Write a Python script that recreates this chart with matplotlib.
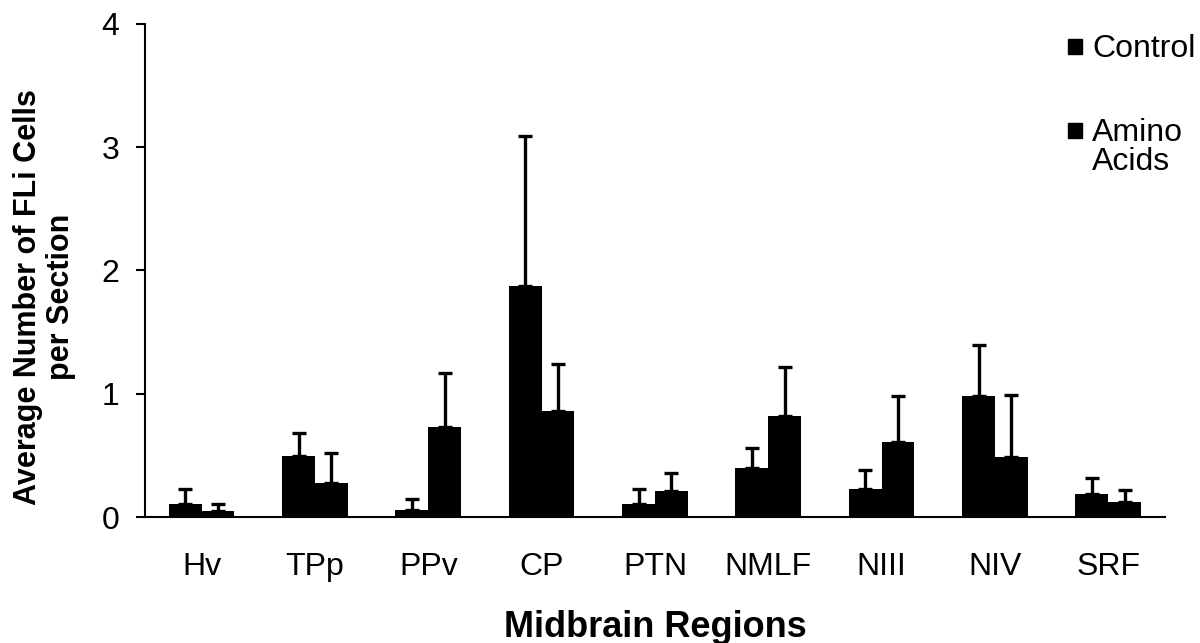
import matplotlib
matplotlib.use("Agg")
import matplotlib.pyplot as plt
from matplotlib.patches import Rectangle
import numpy as np

plt.rcParams['font.family'] = ['Liberation Sans', 'DejaVu Sans']

regions = ['Hv', 'TPp', 'PPv', 'CP', 'PTN', 'NMLF', 'NIII', 'NIV', 'SRF']
control = [0.11, 0.50, 0.06, 1.87, 0.11, 0.40, 0.23, 0.98, 0.19]
control_err = [0.12, 0.18, 0.09, 1.22, 0.12, 0.16, 0.15, 0.42, 0.13]
amino = [0.05, 0.28, 0.73, 0.86, 0.21, 0.82, 0.61, 0.49, 0.12]
amino_err = [0.06, 0.24, 0.44, 0.38, 0.15, 0.40, 0.37, 0.50, 0.10]
series_names = ['Control', 'Amino\nAcids']

fig = plt.figure(figsize=(12, 6.43), dpi=100)
ax = fig.add_axes([0.1208, 0.1955, 0.85, 0.7678])

x = np.arange(len(regions))
w = 0.29
err_style = dict(ecolor='black', elinewidth=2.4, capsize=4.7, capthick=2.4)
ax.bar(x - w / 2, control, w, color='black',
       yerr=[np.zeros(len(x)), control_err], error_kw=err_style)
ax.bar(x + w / 2, amino, w, color='black',
       yerr=[np.zeros(len(x)), amino_err], error_kw=err_style)

ax.set_xlim(-0.5, len(regions) - 0.5)
ax.set_ylim(0, 4)
ax.set_yticks([0, 1, 2, 3, 4])
ax.set_xticks(x)
ax.set_xticklabels(regions)
ax.tick_params(axis='x', length=0, pad=25, labelsize=23)
ax.tick_params(axis='y', direction='out', length=6.5, width=1.5, pad=12, labelsize=23)
for s in ['top', 'right']:
    ax.spines[s].set_visible(False)
for s in ['left', 'bottom']:
    ax.spines[s].set_linewidth(1.5)

ax.set_xlabel('Midbrain Regions', fontsize=26, fontweight='bold', labelpad=20)
fig.text(0.037, 0.538, 'Average Number of FLi Cells\nper Section', rotation=90,
         ha='center', va='center', fontsize=22, fontweight='bold',
         multialignment='center', linespacing=1.15)

# legend drawn by hand so the square lines up with the first text line
leg_y = [46, 130]
for name, yy in zip(series_names, leg_y):
    yf = 1 - yy / 643
    fig.patches.append(Rectangle((1068 / 1200, yf - 7.5 / 643), 14 / 1200, 15 / 643,
                                 transform=fig.transFigure, color='black'))
    fig.text(1092 / 1200, yf + 12 / 643, name, ha='left', va='top',
             fontsize=23, linespacing=0.95)

fig.savefig('out.png', dpi=100)
